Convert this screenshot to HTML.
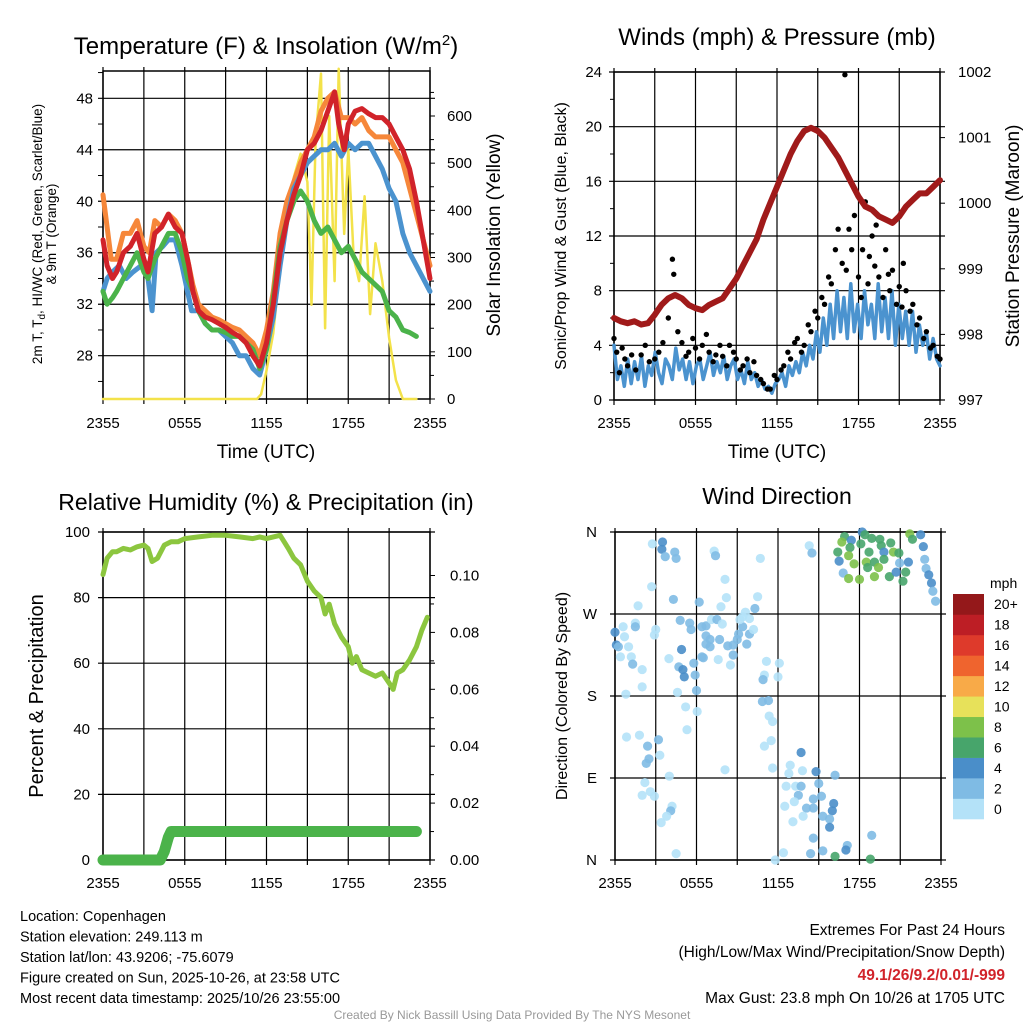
<!DOCTYPE html>
<html><head><meta charset="utf-8"><style>
body{margin:0;background:#fff;width:1024px;height:1024px;overflow:hidden;font-family:"Liberation Sans",sans-serif}
svg text{font-family:"Liberation Sans",sans-serif}
</style></head><body>
<svg id="s" width="1024" height="1024" xmlns="http://www.w3.org/2000/svg">
<g id="g"></g>
</svg>
<script>
// ---------- DATA ----------
const xTickLabels = ["2355","0555","1155","1755","2355"];
const tempTicks = [28,32,36,40,44,48];
const solarTicks = [0,100,200,300,400,500,600];
const tempT = [[0,37],[0.3,35],[0.7,34],[1,34.5],[1.5,36],[2,36.5],[2.5,37.5],[3,35.5],[3.3,34.5],[3.8,37.5],[4.3,38],[4.8,39],[5.3,38],[5.8,37.5],[6.3,35],[6.6,33],[7,31.5],[7.5,31],[8,30.8],[8.5,30.5],[9,30.2],[9.5,29.8],[10,29.5],[10.5,29],[11,28],[11.5,27.2],[12,29],[12.5,32],[13,36],[13.5,38.5],[14,40.5],[14.5,42],[15,44],[15.5,44.5],[16,45.5],[16.5,47],[17,48.5],[17.3,46],[17.7,44],[18,46],[18.5,47],[19,47.2],[19.5,46.8],[20,46.5],[20.5,46.5],[21,46],[21.5,45],[22,44],[22.5,42.5],[23,40],[23.5,37],[24,34]];
const tempTd = [[0,33],[0.3,32],[0.7,32.5],[1,33],[1.5,34],[2,35],[2.5,36],[3,34.5],[3.3,34],[3.8,35.5],[4.3,36.5],[4.8,37.5],[5.3,37.5],[5.8,36],[6.2,34],[6.6,33],[7,31.5],[7.5,30.5],[8,30],[8.5,30],[9,29.8],[9.5,29.5],[10,29.5],[10.5,29],[11,28.5],[11.5,27],[12,28.5],[12.5,32.5],[13,36.5],[13.5,38.5],[14,40],[14.5,40.8],[15,40],[15.5,38.5],[16,37.5],[16.5,38],[17,37],[17.5,36],[18,36.5],[18.5,35.5],[19,34.5],[19.5,34],[20,33.5],[20.5,33],[21,31.5],[21.5,31],[22,30],[22.5,29.8],[23,29.5]];
const tempWC = [[0,33],[0.3,34],[0.7,34.5],[1.2,35],[1.7,34],[2.2,34.5],[2.8,35],[3.3,34],[3.6,31.5],[3.9,36],[4.4,36.5],[4.8,37],[5.3,37],[5.8,35],[6.2,33],[6.5,31.5],[7,31.5],[7.5,30.5],[8,30],[8.5,30],[9,29.5],[9.5,29],[10,28],[10.5,28],[11,27],[11.5,26.5],[12,28.5],[12.5,31],[13,35],[13.5,38.5],[14,41],[14.5,42],[15,43],[15.5,43.5],[16,44],[16.5,44],[17,44.5],[17.5,43.5],[18,44.5],[18.5,44],[19,44.5],[19.5,44.5],[20,43.5],[20.5,42.5],[21,41],[21.5,40],[22,37.5],[22.5,36],[23,35],[23.5,34],[24,33]];
const temp9m = [[0,40.5],[0.3,38],[0.6,35.5],[1,35.5],[1.5,37.5],[2,37.5],[2.5,38.5],[3,36.5],[3.4,36],[3.8,38.5],[4.3,38],[4.8,39],[5.3,38.5],[5.8,37.5],[6.2,35.5],[6.6,33.5],[7,32],[7.5,31.5],[8,31],[8.5,30.8],[9,30.5],[9.5,30.2],[10,30],[10.5,29.5],[11,29],[11.5,28],[12,30],[12.5,33],[13,37.5],[13.5,40],[14,41.5],[14.5,43],[15,44],[15.5,45],[16,47],[16.5,48],[17,48.5],[17.5,46.5],[18,46.5],[18.5,46],[19,46.5],[19.5,45.5],[20,45],[20.5,45],[21,45],[21.5,44],[22,43],[22.5,41],[23,39],[23.5,37],[24,35]];
const solar = [[0,0],[11.3,0],[11.6,10],[12,60],[12.5,140],[13,280],[13.5,380],[14,470],[14.5,520],[15,460],[15.3,200],[15.6,550],[16,690],[16.3,150],[16.6,600],[17,250],[17.3,700],[17.7,350],[18,530],[18.4,300],[18.8,250],[19.2,430],[19.6,180],[20,330],[20.5,250],[21,130],[21.5,40],[22,0],[23,0]];

const windTicks = [0,4,8,12,16,20,24];
const presTicks = [997,998,999,1000,1001,1002];
const windSpd = [4,1.5,2.5,1,3,1.2,2.8,1.5,3.2,1,2.5,1.8,3.5,2,1.2,3,2.5,1.5,3.8,2.2,3,1.5,2.8,1.2,2.5,
 3,1.5,2.5,3.5,1.8,2.8,2,3.2,1.5,2.5,3,1.5,2.2,1.2,2.8,1.5,2,1,1.5,0.8,1,0.5,1.2,
 1.5,2,1,2.5,1.8,2.8,2,3.5,2.5,4,3,5,3.5,6,4,7,4.5,8,5,7.5,4.5,8.5,5,7,
 4.5,8,5.5,7,4.5,8.5,5,7.5,4.5,8,4,7,4.5,6.5,4,6.5,3.5,5.5,4,5,3,4.5,3,2.5];
const gusts = [[0,4.5],[0.2,3.5],[0.4,2],[0.6,3.8],[0.8,3],[1,2.5],[1.3,3.3],[1.6,2.2],[2,3.3],[2.3,4],[2.6,2.8],[3,3],[3.3,3.5],[3.6,4.2],[4,6],[4.3,10.3],[4.4,9.2],[4.7,5],[5,4.2],[5.3,3.2],[5.5,3.5],[5.8,4.5],[6,3.8],[6.3,3],[6.5,4],[6.8,4.8],[7,3.5],[7.3,2.8],[7.5,3.3],[7.8,4],[8,3.2],[8.3,2.5],[8.5,4],[8.8,3.5],[9,3],[9.3,2.2],[9.5,2.5],[9.8,3],[10,2],[10.3,2.8],[10.5,1.8],[10.8,1.5],[11,1.2],[11.3,0.8],[11.5,0.8],[11.8,1.8],[12,1.5],[12.3,2.2],[12.5,2.5],[12.8,3.5],[13,3],[13.3,4.2],[13.5,4.5],[13.8,3.5],[14,4],[14.3,5.5],[14.5,5],[14.8,6.5],[15,6],[15.3,7.5],[15.5,7],[15.8,9],[16,8.5],[16.3,11],[16.5,12.5],[16.8,10],[17,23.8],[17.1,9.5],[17.3,12.5],[17.5,11],[17.7,13.5],[18,9],[18.2,7.5],[18.3,11],[18.5,14.5],[18.7,8.5],[18.8,10.5],[19,12],[19.2,9.8],[19.3,12.8],[19.5,9],[19.8,7.5],[20,11],[20.2,9.2],[20.3,8],[20.5,9.5],[20.8,7],[21,8.3],[21.2,6.8],[21.3,10],[21.5,8],[21.8,6.5],[22,7],[22.3,5.5],[22.5,6],[22.8,4.5],[23,5],[23.3,3.8],[23.5,4],[23.8,3.2],[24,3]];
const pressure = [[0,998.25],[0.5,998.2],[1,998.17],[1.5,998.2],[2,998.15],[2.5,998.17],[3,998.3],[3.5,998.45],[4,998.55],[4.5,998.6],[5,998.55],[5.5,998.45],[6,998.4],[6.5,998.37],[7,998.45],[7.5,998.5],[8,998.55],[8.5,998.7],[9,998.85],[9.5,999.05],[10,999.25],[10.5,999.45],[11,999.75],[11.5,1000.0],[12,1000.25],[12.5,1000.5],[13,1000.75],[13.5,1000.95],[14,1001.1],[14.5,1001.15],[15,1001.1],[15.5,1001.0],[16,1000.85],[16.5,1000.7],[17,1000.5],[17.5,1000.3],[18,1000.1],[18.5,999.95],[19,999.9],[19.5,999.8],[20,999.75],[20.5,999.7],[21,999.8],[21.5,999.95],[22,1000.05],[22.5,1000.15],[23,1000.15],[23.5,1000.25],[24,1000.35]];

const rhTicks = [0,20,40,60,80,100];
const precipTicks = ["0.00","0.02","0.04","0.06","0.08","0.10"];
const rh = [[0,87],[0.3,92],[0.7,94],[1,94],[1.5,95],[2,94.5],[2.5,95.5],[3,96],[3.3,95],[3.6,91],[4,92],[4.5,96],[5,97],[5.5,97],[6,98],[7,98.5],[8,99],[9,99],[10,98.5],[11,98],[11.5,98.5],[12,98],[12.5,98.5],[13,99],[13.3,97],[13.6,95],[14,92],[14.5,90],[15,85],[15.5,82],[16,80],[16.3,75],[16.6,78],[17,72],[17.5,68],[18,65],[18.3,60],[18.6,62],[19,58],[19.5,57],[20,56],[20.5,57],[21,54],[21.3,52],[21.6,57],[22,58],[22.5,61],[23,65],[23.4,70],[23.8,74]];
const precip = [[0,0],[4.2,0],[4.5,0.003],[4.8,0.008],[5,0.01],[23,0.01]];

const dirLabels = ["N","E","S","W","N"];
const speedBins = ["0","2","4","6","8","10","12","14","16","18","20+"];
const binColors = ["#b4e2f8","#7fbbe4","#4a8ec9","#47a56b","#7dc14a","#e7e15a","#f8aa48","#ef642e","#de3a2b","#bd1e25","#94181a"];
const dirHours = [2.75,3.5,3.45,3.7,4.4,4.5,2.7,1.7,4.3,6.2,7.3,7.4,8.1,8.2,7.8,10.7,10.5,10.3,9.6,14.3,14.5,0,0.1,0.25,0.6,0.7,1,0.4,1.2,1.3,1.5,1.5,2,2,0.8,3,2.9,3.97,4.8,4.9,4.7,5,5.1,5.5,5.6,5.8,5.9,6,4.6,5.2,6.05,5.3,6.4,6.7,7.1,7.5,6.7,7,7.7,6.7,7,6.4,6.5,7.6,7.9,8.3,8.7,8.7,9,9.1,9.4,9.2,9.4,9.9,9.7,9.9,10.2,8.5,11.15,12.1,12,11,10.9,10.85,11.3,11.35,11.6,0.85,1.8,2.4,3.2,3.3,2.5,2.3,4,2.2,2,2.6,2.9,4.2,4.1,3.8,3.4,4.5,8.1,11.5,11,11.6,12.9,12.8,13.8,13.7,14.8,15,16.2,12.6,13.3,13.7,13.5,13.2,12.5,14.6,15.2,14.1,14.6,16.1,16,13.85,15.3,15.8,15.8,13.1,14.6,15.3,14.4,12.4,11.8,17.1,17,16.2,18.8,18.9,16.9,16.7,17.4,16.4,17.3,16.5,17.2,17.6,16.8,17.2,18,18.2,18.4,18.9,18.1,19.5,19.6,18.7,19.8,20.3,20.5,20.9,19.8,18.5,19.1,18.6,19.4,19.1,20.2,20.95,21.6,20.7,21.4,21.2,21.7,21.9,22.5,22.7,22.8,22.9,23.1,23.3,23.4,23.6];
const dirDegrees = [347,349,341,333,338,331,300,279,286,283,339,334,308,288,278,331,289,276,272,345,337,250,236,234,256,245,234,223,223,215,260,256,209,190,182,253,247,221,263,231,212,209,201,260,253,216,203,186,184,168,163,143,256,257,264,264,246,242,242,237,234,223,222,220,259,235,236,225,242,248,256,264,267,265,237,248,253,214,218,216,201,203,198,174,175,158,152,135,137,125,132,115,111,106,92,85,71,75,70,59,54,48,41,7,99,131,125,101,104,95,98,118,97,84,93,81,81,81,71,64,59,67,70,57,57,62,54,48,48,45,36,42,24,10,7,8,0,16,11,4,1,27,355,349,351,338,343,328,334,325,315,309,308,360,357,353,347,352,345,338,338,348,338,337,330,327,327,321,321,311,311,326,327,316,316,306,358,352,357,344,330,320,313,304,295,284];
const dirSpeeds = [0.5,4.5,4.5,3,3,3,0.5,0.5,3,3,0.5,3,0.5,0.5,0.5,0.5,0.5,3,0.5,0.5,3,5,5,3,0.5,0.5,0.5,0.5,0.5,3,0.5,3,0.5,0.5,0.5,0.5,0.5,0.5,3,5,3,5,5,3,3,3,3,3,0.5,0.5,0.5,0.5,3,3,0.5,3,3,3,3,3,3,3,3,0.5,0.5,3,3,3,3,3,3,0.5,0.5,0.5,3,3,0.5,0.5,0.5,0.5,0.5,0.5,3,3,3,0.5,0.5,0.5,0.5,3,3,0.5,3,3,0.5,0.5,0.5,0.5,0.5,0.5,3,0.5,0.5,0.5,0.5,0.5,0.5,0.5,0.5,0.5,0.5,5,5,3,3,0.5,0.5,3,3,0.5,0.5,3,3,3,3,5,5,0.5,3,3,5,0.5,3,3,3,0.5,0.5,3,5,7,7,3,7,9,5,7,7,5,9,9,3,9,9,5,7,7,7,7,7,7,5,7,9,7,7,9,7,7,9,9,7,3,5,5,7,7,9,7,5,5,3,3,5,5,3,3,3];

// ---------- DRAW ----------
const NS="http://www.w3.org/2000/svg";
const G=document.getElementById('g');
function el(tag,attrs,parent){const e=document.createElementNS(NS,tag);for(const k in attrs)e.setAttribute(k,attrs[k]);(parent||G).appendChild(e);return e;}
function txt(s,x,y,size,anchor,extra){const t=el('text',Object.assign({x:x,y:y,'font-size':size,'text-anchor':anchor||'middle',fill:'#000'},extra||{}));t.textContent=s;return t;}
function scale(d0,d1,r0,r1){return v=>r0+(v-d0)/(d1-d0)*(r1-r0);}
function poly(pts,fx,fy,color,w,name){const p=el('polyline',{points:pts.map(q=>fx(q[0]).toFixed(1)+','+fy(q[1]).toFixed(1)).join(' '),fill:'none',stroke:color,'stroke-width':w,'stroke-linejoin':'round','stroke-linecap':'round'});return p;}

function gridV(L,T,R,B,fx){
  for(let h=0;h<=24;h+=3){const x=fx(h);el('line',{x1:x,y1:T-4,x2:x,y2:B+5,stroke:'#000','stroke-width':1.2});}
}
function gridH(L,R,y){el('line',{x1:L-5,y1:y,x2:R+5,y2:y,stroke:'#000','stroke-width':1.2});}
function box(L,T,R,B){el('rect',{x:L,y:T,width:R-L,height:B-T,fill:'none',stroke:'#000','stroke-width':1.5});}
function xLabels(fx,y){xTickLabels.forEach((s,i)=>{const t=txt(s,fx(i*6),y,15);});}

// Panel 1
(function(){
  const L=103,T=71,R=430,B=399;
  const fx=scale(0,24,L,R), fy=scale(28,48,355.7,98.3), fs=scale(0,600,399,116);
  gridV(L,T,R,B,fx);
  tempTicks.forEach(v=>{gridH(L,R,fy(v));const t=txt(String(v),L-10,fy(v)+5,15,'end');});
  for(let v=26;v<=50;v+=2){if(v%4)el('line',{x1:L-5,y1:fy(v),x2:L,y2:fy(v),stroke:'#000'});}
  solarTicks.forEach(v=>{el('line',{x1:R,y1:fs(v),x2:R+5,y2:fs(v),stroke:'#000'});const t=txt(String(v),R+17,fs(v)+5,15,'start');});
  for(let v=50;v<=650;v+=100)el('line',{x1:R,y1:fs(v),x2:R+4,y2:fs(v),stroke:'#000'});
  box(L,T,R,B);
  poly(solar,fx,fs,'#f3e24a',2.5,'solar-insolation-line');
  poly(temp9m,fx,fy,'#f6873a',5,'9m-temp-line');
  poly(tempWC,fx,fy,'#4b93cf',5,'wind-chill-line');
  poly(tempTd,fx,fy,'#4bb34a',5,'dewpoint-line');
  poly(tempT,fx,fy,'#d1232a',5,'temperature-line');
  xLabels(fx,428);
  const t1=txt('',266,54,24);t1.innerHTML='Temperature (F) &amp; Insolation (W/m<tspan dy="-9" font-size="15">2</tspan><tspan dy="9">)</tspan>';
  const xt=txt('Time (UTC)',266,458,19);
  const yl=txt('',0,0,13.5,'middle',{transform:'translate(42,234) rotate(-90)'});yl.innerHTML='2m T, T<tspan dy="3" font-size="10">d</tspan><tspan dy="-3">, HI/WC (Red, Green, Scarlet/Blue)</tspan>';
  const yl2=txt('& 9m T (Orange)',0,0,13.5,'middle',{transform:'translate(56,234) rotate(-90)'});
  const yr=txt('Solar Insolation (Yellow)',0,0,19,'middle',{transform:'translate(500,235) rotate(-90)'});
})();

// Panel 2
(function(){
  const L=614,T=72,R=940,B=400;
  const fx=scale(0,24,L,R), fy=scale(0,24,B,T), fp=scale(997,1002,B,T);
  gridV(L,T,R,B,fx);
  windTicks.forEach(v=>{gridH(L,R,fy(v));const t=txt(String(v),L-12,fy(v)+5,15,'end');});
  for(let v=2;v<24;v+=4)el('line',{x1:L-4,y1:fy(v),x2:L,y2:fy(v),stroke:'#000'});
  presTicks.forEach(v=>{el('line',{x1:R,y1:fp(v),x2:R+5,y2:fp(v),stroke:'#000'});const t=txt(String(v),R+18,fp(v)+5,15,'start');});
  box(L,T,R,B);
  const n=windSpd.length;
  poly(windSpd.map((v,i)=>[i*24/(n-1),v]),fx,fy,'#4b93cf',3.5,'wind-speed-line');
  gusts.forEach(g=>{const c=el('circle',{cx:fx(g[0]),cy:fy(g[1]),r:2.7,fill:'#000'});});
  poly(pressure,fx,fp,'#a01a1a',6,'pressure-line');
  xLabels(fx,428);
  const t=txt('Winds (mph) & Pressure (mb)',777,45,24);
  const xt=txt('Time (UTC)',777,458,19);
  const yl=txt('Sonic/Prop Wind & Gust (Blue, Black)',0,0,16,'middle',{transform:'translate(566,236) rotate(-90)'});
  const yr=txt('Station Pressure (Maroon)',0,0,19,'middle',{transform:'translate(1019,236) rotate(-90)'});
})();

// Panel 3
(function(){
  const L=103,T=532,R=430,B=860;
  const fx=scale(0,24,L,R), fy=scale(0,100,B,T), fp=scale(0,0.1,B,575.5);
  gridV(L,T,R,B,fx);
  rhTicks.forEach(v=>{gridH(L,R,fy(v));const t=txt(String(v),L-13,fy(v)+5,15,'end');});
  precipTicks.forEach(s=>{const y=fp(parseFloat(s));el('line',{x1:R,y1:y,x2:R+5,y2:y,stroke:'#000'});const t=txt(s,R+20,y+5,15,'start');});
  for(let v=0.01;v<0.11;v+=0.02)el('line',{x1:R,y1:fp(v),x2:R+4,y2:fp(v),stroke:'#000'});
  box(L,T,R,B);
  poly(rh,fx,fy,'#8cc63f',5,'relative-humidity-line');
  poly(precip,fx,fp,'#4bb34a',11,'precipitation-line');
  xLabels(fx,888);
  const t=txt('Relative Humidity (%) & Precipitation (in)',266,510,23);
  const yl=txt('Percent & Precipitation',0,0,20,'middle',{transform:'translate(43,696) rotate(-90)'});
})();

// Panel 4
(function(){
  const L=615,T=532,R=941,B=860;
  const fx=scale(0,24,L,R), fy=scale(0,360,B,T);
  gridV(L,T,R,B,fx);
  dirLabels.forEach((s,i)=>{const y=fy(i*90);gridH(L,R,y);const t=txt(s,L-18,y+5,15,'end');});
  box(L,T,R,B);
  dirHours.forEach((h,i)=>{const bin=Math.min(10,Math.max(0,Math.floor(dirSpeeds[i]/2)));const c=el('circle',{cx:fx(h),cy:fy(dirDegrees[i]),r:4.6,fill:binColors[bin],'fill-opacity':0.9});});
  xLabels(fx,888);
  const t=txt('Wind Direction',777,504,23);
  const yl=txt('Direction (Colored By Speed)',0,0,16,'middle',{transform:'translate(567,696) rotate(-90)'});
  const cbT=594,cbB=819,cbL=953,cbW=31,bh=(cbB-cbT)/11;
  const u=txt('mph',990,588,14,'start');
  speedBins.forEach((s,i)=>{const y=cbB-(i+1)*bh;const r=el('rect',{x:cbL,y:y,width:cbW,height:bh+0.3,fill:binColors[i]});const t=txt(s,994,y+bh/2+5,14,'start');});
})();

// Footer text
const info=["Location: Copenhagen","Station elevation: 249.113 m","Station lat/lon: 43.9206; -75.6079","Figure created on Sun, 2025-10-26, at 23:58 UTC","Most recent data timestamp: 2025/10/26 23:55:00"];
info.forEach((s,i)=>{const t=txt(s,20,921+i*20.5,14.5,'start');});
[["Extremes For Past 24 Hours",935,'#000'],["(High/Low/Max Wind/Precipitation/Snow Depth)",957,'#000'],["49.1/26/9.2/0.01/-999",980,'#d1232a'],["Max Gust: 23.8 mph On 10/26 at 1705 UTC",1003,'#000']].forEach((a,i)=>{const t=txt(a[0],1005,a[1],15.5,'end',{fill:a[2]});if(i==2)t.setAttribute('font-weight','bold');});
const cr=txt('Created By Nick Bassill Using Data Provided By The NYS Mesonet',512,1019,12,'middle',{fill:'#999'});
</script>
</body></html>
